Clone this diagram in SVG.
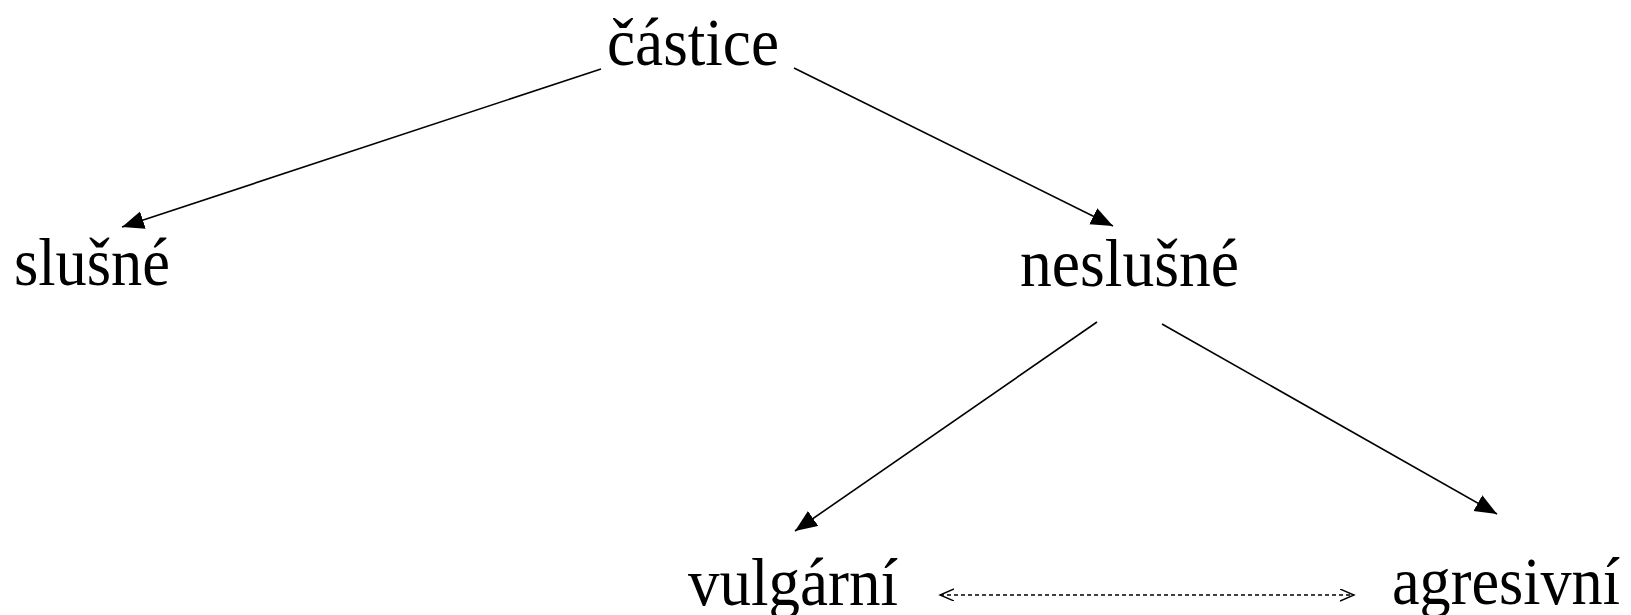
<svg xmlns="http://www.w3.org/2000/svg" width="1631" height="615" viewBox="0 0 1631 615">
<style>
text{font-family:"Liberation Serif","Times New Roman",serif;font-size:68px;fill:#000}
.c{stroke:#000;stroke-width:1.6;fill:none}
.d{stroke:#000;stroke-width:1.5;fill:none;stroke-dasharray:4 3}
</style>
<defs>
<marker id="a" markerUnits="userSpaceOnUse" markerWidth="24" markerHeight="20" refX="22" refY="9" orient="auto"><path d="M0,0 L22,9 L0,18 z" fill="#000"/></marker>
<marker id="o" markerUnits="userSpaceOnUse" markerWidth="16" markerHeight="14" refX="14" refY="6" orient="auto-start-reverse"><path d="M0,0 L14,6 L0,12" fill="none" stroke="#000" stroke-width="1.4"/></marker>
</defs>
<rect width="1631" height="615" fill="#fff"/>
<g id="connectors">
<line class="c" x1="601" y1="69" x2="122" y2="227" marker-end="url(#a)"/>
<line class="c" x1="794" y1="68" x2="1113" y2="226" marker-end="url(#a)"/>
<line class="c" x1="1097" y1="322" x2="795" y2="531" marker-end="url(#a)"/>
<line class="c" x1="1162" y1="324" x2="1497" y2="514" marker-end="url(#a)"/>
<line class="d" x1="940" y1="595" x2="1354" y2="595" marker-start="url(#o)" marker-end="url(#o)"/>
</g>
<g id="castice"><text x="607" y="65" textLength="172" lengthAdjust="spacingAndGlyphs">částice</text></g>
<g id="slusne"><text x="14" y="285" textLength="156" lengthAdjust="spacingAndGlyphs">slušné</text></g>
<g id="neslusne"><text x="1020" y="286" textLength="219" lengthAdjust="spacingAndGlyphs">neslušné</text></g>
<g id="vulgarni"><text x="688" y="605" textLength="210" lengthAdjust="spacingAndGlyphs">vulgární</text></g>
<g id="agresivni"><text x="1392" y="604" textLength="228" lengthAdjust="spacingAndGlyphs">agresivní</text></g>
</svg>
